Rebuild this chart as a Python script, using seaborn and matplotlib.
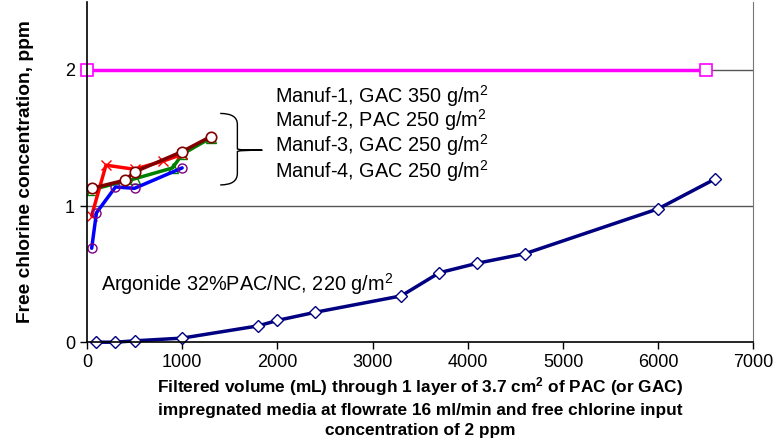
import numpy as np
import pandas as pd
import matplotlib
matplotlib.use("Agg")
import matplotlib.pyplot as plt
import seaborn as sns
from matplotlib.path import Path
from matplotlib.patches import PathPatch

# data
argonide_x = [100, 300, 500, 1000, 1800, 2000, 2400, 3300, 3700, 4100, 4600, 6000, 6600]
argonide_y = [0.0, 0.0, 0.01, 0.03, 0.12, 0.16, 0.22, 0.34, 0.51, 0.58, 0.65, 0.98, 1.2]

input_x = [0, 6500]
input_y = [2.0, 2.0]

manuf1_x = [50, 200, 500, 800, 1000]
manuf1_y = [0.93, 1.30, 1.27, 1.33, 1.38]

manuf2_x = [50, 400, 500, 1000, 1300]
manuf2_y = [1.13, 1.19, 1.25, 1.40, 1.51]

manuf3_x = [50, 500, 900, 1000, 1300]
manuf3_y = [1.12, 1.20, 1.28, 1.38, 1.50]

manuf4_x = [50, 100, 300, 500, 1000]
manuf4_y = [0.69, 0.95, 1.14, 1.13, 1.28]

manuf_labels = ["Manuf-1, GAC 350 g/m$^2$", "Manuf-2, PAC 250 g/m$^2$",
                "Manuf-3, GAC 250 g/m$^2$", "Manuf-4, GAC 250 g/m$^2$"]
argonide_label = "Argonide 32%PAC/NC, 220 g/m$^2$"
xticks = [0, 1000, 2000, 3000, 4000, 5000, 6000, 7000]
yticks = [0, 1, 2]

sns.set_style("white")
plt.rcParams['font.family'] = ['Liberation Sans', 'DejaVu Sans']
plt.rcParams['mathtext.fontset'] = 'custom'
plt.rcParams['mathtext.rm'] = 'Liberation Sans'
plt.rcParams['mathtext.bf'] = 'Liberation Sans:bold'
plt.rcParams['mathtext.default'] = 'regular'
plt.rcParams['text.color'] = 'black'
plt.rcParams['axes.labelcolor'] = 'black'

fig = plt.figure(figsize=(7.76, 4.45), dpi=100)
ax = fig.add_axes([0.112, 0.231, 0.859, 0.765])

# grid lines at 1 and 2
for g in [1, 2]:
    ax.axhline(g, color='#555555', lw=1, zorder=0)

common = dict(ax=ax, lw=2.5, sort=False, clip_on=False)
sns.lineplot(x=input_x, y=input_y, color='#FF00FF', marker='s',
             markersize=8, markerfacecolor='white', markeredgecolor='#FF00FF',
             markeredgewidth=1.2, **common)
sns.lineplot(x=argonide_x, y=argonide_y, color='#000080', marker='D',
             markersize=6, markerfacecolor='white', markeredgecolor='#000080',
             markeredgewidth=1, **common)
sns.lineplot(x=manuf3_x, y=manuf3_y, color='#008000', marker='^',
             markersize=7, markerfacecolor='none', markeredgecolor='#008000',
             markeredgewidth=1, **common)
sns.lineplot(x=manuf1_x, y=manuf1_y, color='#FF0000', marker='x',
             markersize=7, markeredgecolor='#FF0000', markeredgewidth=1, **common)
sns.lineplot(x=manuf4_x, y=manuf4_y, color='#0000FF', marker='o',
             markersize=6.5, markerfacecolor='none', markeredgecolor='#800080',
             markeredgewidth=1, **common)
sns.lineplot(x=manuf2_x, y=manuf2_y, color='#800000', marker='o',
             markersize=7.5, markerfacecolor='white', markeredgecolor='#800000',
             markeredgewidth=1.2, **common)

ax.set_xlim(0, 7000)
ax.set_ylim(0, 2.5)
ax.set_xticks(xticks)
ax.set_yticks(yticks)
ax.tick_params(axis='both', labelsize=13, direction='out', length=5, width=1,
               colors='black', bottom=True, left=True)
for s in ['left', 'bottom']:
    ax.spines[s].set_color('black')
    ax.spines[s].set_linewidth(1.2)
ax.spines['right'].set_color('#777777')
ax.spines['top'].set_visible(False)

ax.set_ylabel("Free chlorine concentration, ppm", fontsize=13.8, fontweight='bold', labelpad=22)
ax.set_xlabel("Filtered volume (mL) through 1 layer of 3.7 cm$^{\\mathbf{2}}$ of PAC (or GAC)\n"
              "impregnated media at flowrate 16 ml/min and free chlorine input\n"
              "concentration of 2 ppm", fontsize=12.4, fontweight='bold', labelpad=3,
              linespacing=1.4)

# labels
for lab, yy in zip(manuf_labels, [1.81, 1.63, 1.45, 1.26]):
    ax.text(1980, yy, lab, fontsize=14.3, va='center', ha='left')
ax.text(150, 0.43, argonide_label, fontsize=14.3, va='center', ha='left')

# brace
verts = [(1400, 1.68), (1580, 1.68), (1580, 1.60),
         (1580, 1.42), (1580, 1.41), (1842, 1.41),
         (1580, 1.41), (1580, 1.40), (1580, 1.24),
         (1580, 1.155), (1400, 1.155)]
codes = [Path.MOVETO, Path.CURVE3, Path.CURVE3,
         Path.LINETO, Path.CURVE3, Path.CURVE3,
         Path.CURVE3, Path.CURVE3, Path.LINETO,
         Path.CURVE3, Path.CURVE3]
ax.add_patch(PathPatch(Path(verts, codes), facecolor='none', edgecolor='black', lw=1))

fig.savefig("out.png", dpi=100)
